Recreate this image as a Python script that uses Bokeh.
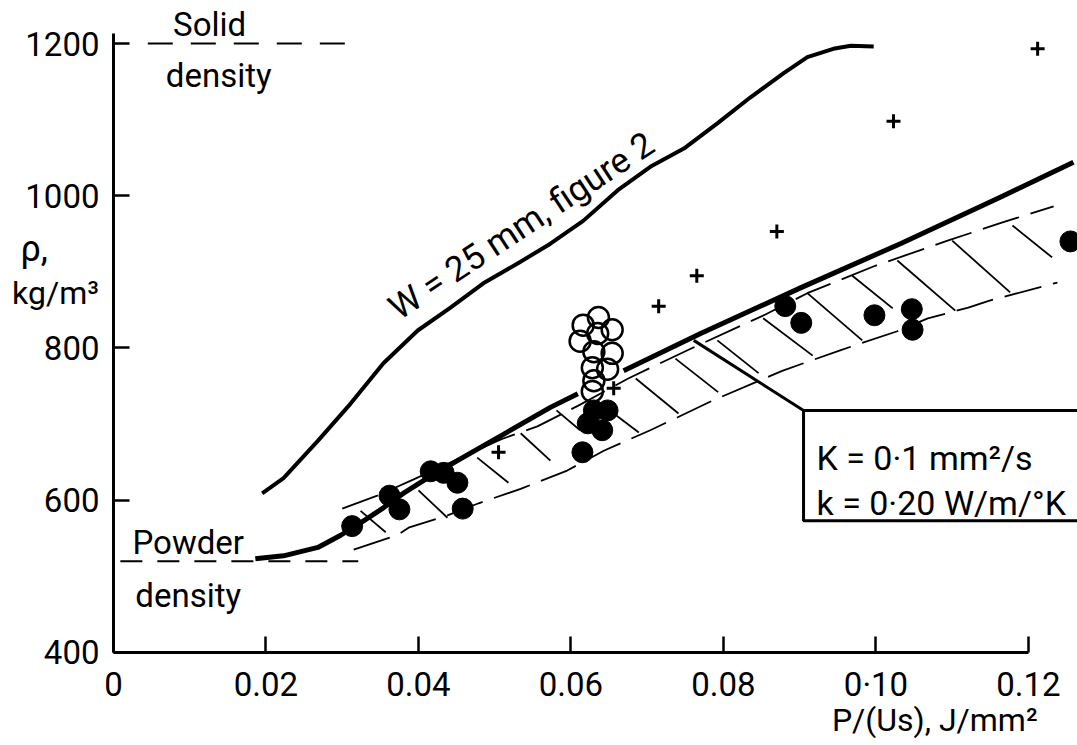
from bokeh.plotting import figure
from bokeh.models import Range1d, FixedTicker, Label
from bokeh.embed import file_html
from bokeh.resources import INLINE

nan = float("nan")

# ---- data ----
xticks = [0, 0.02, 0.04, 0.06, 0.08, 0.10, 0.12]
xtick_labels = ["0", "0.02", "0.04", "0.06", "0.08", "0·10", "0.12"]
yticks = [400, 600, 800, 1000, 1200]

solid_density = 1200
powder_density = 520
solid_line_x = [0.0045, 0.0304]
powder_line_x = [0.0009, 0.0321]

# W = 25 mm curve (figure 2)
w25_x = [0.0195, 0.0223, 0.0268, 0.0311, 0.0354, 0.0399, 0.0442, 0.0485, 0.0530, 0.0573, 0.0616,
         0.0661, 0.0704, 0.0748, 0.0792, 0.0835, 0.0879, 0.0910, 0.0944, 0.0967, 0.0997]
w25_y = [609, 629, 678, 727, 780, 823, 853, 885, 911, 937, 967,
         1007, 1038, 1062, 1095, 1129, 1161, 1182, 1193, 1197, 1196]

# model curve K = 0.1 mm2/s, k = 0.20 W/m/K
model_x = [0.0186, 0.0223, 0.0268, 0.0298, 0.0328, 0.0354, 0.0380, 0.0407, 0.0451, 0.0573, 0.0609,
           nan, 0.0669, 0.0770, 0.0901, 0.1032, 0.1163, 0.1259]
model_y = [523, 527, 538, 554, 573, 590, 609, 626, 652, 722, 740,
           nan, 770, 819, 879, 937, 998, 1044]

# hatched band: dashed boundaries and hatch strokes
band_upper_x = [0.0300, 0.0346, 0.0393, 0.0508, 0.0556, 0.0609, 0.0675, 0.0757, 0.0855, 0.0910,
                0.0999, 0.1094, 0.1166, 0.1233]
band_upper_y = [589, 606, 627, 680, 697, 724, 760, 799, 844, 872, 908, 941, 965, 986]
band_lower_x = [0.0315, 0.0372, 0.0387, 0.0438, 0.0479, 0.0534, 0.0595, 0.0643, 0.0704, 0.0740,
                0.0786, 0.0877, 0.0953, 0.1028, 0.1068, 0.1121, 0.1148, 0.1238]
band_lower_y = [535, 554, 564, 580, 596, 615, 639, 665, 692, 709, 731, 770, 797, 822, 839, 853, 862, 886]
hatch_x0 = [0.0324, 0.0400, 0.0477, 0.0534, 0.0581, 0.0656, 0.0685, 0.0737, 0.0792, 0.0852,
            0.0910, 0.0969, 0.1028, 0.1100, 0.1179]
hatch_y0 = [586, 613, 656, 688, 718, 714, 760, 786, 810, 839, 872, 895, 915, 941, 961]
hatch_x1 = [0.0357, 0.0438, 0.0518, 0.0573, 0.0612, 0.0689, 0.0741, 0.0793, 0.0846, 0.0917,
            0.0982, 0.1022, 0.1104, 0.1176, 0.1231]
hatch_y1 = [558, 577, 623, 652, 692, 689, 714, 742, 767, 790, 810, 852, 849, 873, 919]

# filled dots
filled_x = [0.0313, 0.0362, 0.0375, 0.0416, 0.0433, 0.0451, 0.0458, 0.0615, 0.0630, 0.0648, 0.0622,
            0.0641, 0.0881, 0.0902, 0.0998, 0.1047, 0.1048, 0.1255]
filled_y = [566, 606, 588, 638, 636, 623, 589, 663, 718, 718, 701,
            692, 855, 833, 843, 851, 824, 940]

# open circles
open_x = [0.0636, 0.0616, 0.0654, 0.0635, 0.0612, 0.0630, 0.0654, 0.0628, 0.0648, 0.0630, 0.0628]
open_y = [840, 830, 824, 819, 809, 795, 793, 774, 772, 757, 743]

# crosses
cross_x = [0.0505, 0.0656, 0.0715, 0.0765, 0.0870, 0.1023, 0.1212]
cross_y = [663, 747, 855, 895, 953, 1098, 1193]

# annotation box and leader
leader_x = [0.0761, 0.0905]
leader_y = [810, 718]
box_left, box_right, box_top, box_bottom = 0.0905, 0.14, 718, 573

FONT = "Roboto"

p = figure(width=1077, height=745, x_range=Range1d(-0.01482, 0.12643), y_range=Range1d(277.8, 1256.5),
           output_backend="svg", toolbar_location=None,
           min_border_left=0, min_border_right=0, min_border_top=0, min_border_bottom=0)
p.outline_line_color = None
p.grid.visible = False
p.background_fill_color = "white"
p.border_fill_color = "white"

# axes, placed at x = 0 and y = 400 inside the frame
xa = p.xaxis[0]
xa.ticker = FixedTicker(ticks=xticks)
xa.major_label_overrides = {t: l for t, l in zip(xticks, xtick_labels)}
xa.bounds = (0, 0.12)
xa.fixed_location = 400
ya = p.yaxis[0]
ya.ticker = FixedTicker(ticks=yticks)
ya.bounds = (400, 1213)
ya.fixed_location = 0
for ax in (xa, ya):
    ax.axis_line_width = 3
    ax.axis_line_color = "black"
    ax.major_tick_in = 16
    ax.major_tick_out = 0
    ax.major_tick_line_width = 2.5
    ax.major_tick_line_color = "black"
    ax.minor_tick_line_color = None
    ax.major_label_text_font = FONT
    ax.major_label_text_font_size = "33px"
    ax.major_label_text_color = "black"
xa.major_label_standoff = 13
ya.major_label_standoff = 14

# hatched band
p.segment(hatch_x0, hatch_y0, hatch_x1, hatch_y1, line_color="black", line_width=1.8)
p.line(band_upper_x, band_upper_y, line_color="black", line_width=1.8, line_dash="38 12")
p.line(band_lower_x, band_lower_y, line_color="black", line_width=1.8, line_dash="38 12")

# density reference lines
p.line(solid_line_x, [solid_density] * 2, line_color="black", line_width=2, line_dash="25 18")
p.line(powder_line_x, [powder_density] * 2, line_color="black", line_width=2, line_dash="22 15")

# curves
p.line(w25_x, w25_y, line_color="black", line_width=4, line_join="round")
p.line(model_x, model_y, line_color="black", line_width=5, line_join="round")

# leader and box
p.line(leader_x, leader_y, line_color="black", line_width=3)
p.quad(left=[box_left], right=[box_right], top=[box_top], bottom=[box_bottom],
       fill_color="white", line_color="black", line_width=3)

# points
p.scatter(open_x, open_y, marker="circle", size=21, fill_alpha=0, line_color="black", line_width=2.5)
p.scatter(filled_x, filled_y, marker="circle", size=21, fill_color="black", line_color="black")
p.scatter(cross_x, cross_y, marker="cross", size=14, line_color="black", line_width=3)

# texts
def lab(x, y, t, align="center", base="middle", size="32px", angle=0):
    p.add_layout(Label(x=x, y=y, text=t, text_align=align, text_baseline=base,
                       text_font=FONT, text_font_size=size, text_color="black",
                       angle=angle, angle_units="deg"))

lab(0.0126, 1225, "Solid", size="33px")
lab(0.0138, 1158, "density", size="33px")
lab(0.0098, 544, "Powder", size="33px")
lab(0.0098, 475, "density", size="33px")
lab(-0.0104, 930, "ρ,", size="36px")
lab(-0.0076, 872, "kg/m³", size="32px")
lab(0.0366, 848, "W = 25 mm, figure 2", align="left", base="alphabetic", size="35px", angle=33.5)
lab(0.0922, 655, "K = 0·1 mm²/s", align="left", base="alphabetic", size="34px")
lab(0.0922, 596, "k = 0·20 W/m/°K", align="left", base="alphabetic", size="34px")
lab(0.1212, 311, "P/(Us), J/mm²", align="right", base="middle", size="32px")

open("out.html", "w").write(file_html(p, INLINE))
